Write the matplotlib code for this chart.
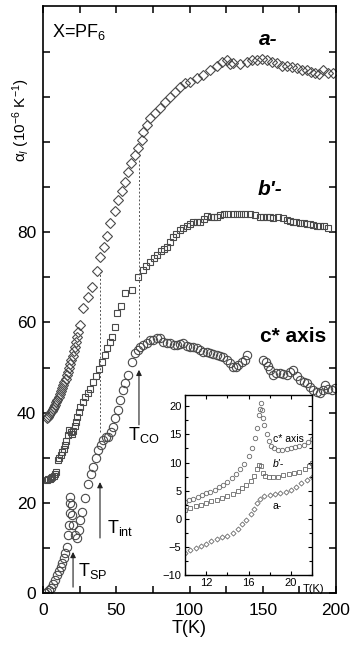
import numpy as np
import matplotlib.pyplot as plt
from matplotlib.ticker import MultipleLocator

plt.rcParams['font.family'] = ['Liberation Sans', 'DejaVu Sans']
plt.rcParams['mathtext.fontset'] = 'custom'
plt.rcParams['mathtext.rm'] = 'Liberation Sans'
plt.rcParams['mathtext.it'] = 'Liberation Sans:italic'
plt.rcParams['mathtext.bf'] = 'Liberation Sans:bold'

# ---- main panel data: thermal expansion alpha_l vs T ----
a_T = [2.7, 3.5, 4.3, 5.0, 5.8, 6.6, 7.4, 8.2, 9.0, 9.8, 10.6, 11.4, 12.2, 13.0,
       13.8, 14.6, 15.4, 16.2, 17.0, 17.8, 18.6, 19.4, 20.2, 21.0, 21.8, 22.6,
       23.4, 24.2, 25.3, 27.3, 30.7, 33.4, 36.9, 38.9, 41.6, 43.7, 45.7, 49.1,
       51.2, 53.9, 56.0, 58.0, 60.1, 62.8, 64.8, 67.4, 68.5, 70.8, 73.0, 76.5,
       79.9, 83.3, 86.7, 90.1, 93.5, 96.9, 100.3, 104.9, 109.4, 114.0, 118.6,
       122.2, 125.4, 127.6, 129.9, 134.5, 139.0, 142.7, 145.9, 149.5, 152.7,
       156.3, 159.5, 163.1, 166.3, 170.0, 173.2, 176.8, 180.0, 183.0, 185.7,
       188.4, 191.3, 194.5, 198.2]
a_y = [38.8, 39.1, 39.5, 39.9, 40.3, 40.8, 41.3, 41.7, 42.3, 42.9, 43.5, 44.1,
       44.7, 45.4, 46.1, 46.8, 47.5, 48.3, 49.1, 49.9, 50.8, 51.7, 52.6, 53.6,
       54.6, 55.6, 56.7, 57.8, 59.5, 63.2, 65.7, 67.9, 71.4, 74.5, 76.8, 79.2,
       82.1, 84.7, 87.2, 89.2, 91.2, 93.4, 95.4, 97.2, 98.7, 100.5, 102.3, 103.8,
       105.3, 106.4, 107.5, 109.0, 110.1, 111.2, 112.3, 113.1, 113.4, 114.2,
       114.9, 116.0, 116.8, 117.8, 118.2, 117.3, 117.5, 117.3, 117.8, 118.2,
       118.2, 118.5, 118.2, 117.8, 117.5, 116.9, 116.8, 116.7, 116.4, 116.0,
       116.0, 115.6, 115.3, 115.1, 116.0, 115.4, 115.3]

b_T = [2.7, 3.6, 4.5, 5.4, 6.3, 7.2, 8.1, 9.0, 10.2, 11.0, 12.0, 13.0, 14.0,
       15.0, 16.0, 17.1, 18.0, 18.8, 19.6, 20.5, 21.5, 22.5, 23.5, 24.5, 25.3,
       27.0, 28.7, 30.5, 32.1, 34.0, 36.0, 38.0, 40.3, 42.0, 43.7, 45.5, 47.1,
       49.1, 50.5, 53.0, 56.0, 60.7, 64.8, 68.3, 70.5, 73.0, 75.5, 77.8, 80.5,
       82.5, 84.6, 86.7, 88.7, 91.0, 93.3, 95.6, 98.0, 100.2, 102.4, 104.8,
       107.2, 109.6, 112.0, 114.5, 116.8, 118.8, 120.8, 123.5, 126.5, 129.7,
       132.5, 135.2, 138.2, 141.3, 144.6, 148.1, 150.5, 152.9, 155.0, 157.0,
       160.4, 163.8, 166.5, 168.6, 170.6, 173.0, 175.4, 178.0, 180.2, 182.3,
       184.3, 187.0, 189.1, 191.8, 194.5]
b_y = [25.1, 25.2, 25.3, 25.5, 25.7, 26.0, 26.4, 26.9, 29.5, 30.0, 30.6, 31.2,
       32.0, 32.8, 33.8, 35.0, 36.2, 35.6, 35.2, 36.0, 37.0, 38.0, 39.0, 40.2,
       41.3, 42.4, 43.5, 44.4, 45.2, 46.8, 48.2, 49.6, 51.2, 52.8, 54.3, 55.6,
       56.8, 59.0, 62.1, 63.6, 66.5, 67.2, 70.1, 71.7, 72.6, 73.4, 74.2, 75.0,
       75.9, 76.4, 76.8, 77.9, 79.0, 79.7, 80.4, 81.0, 81.5, 81.9, 82.3, 82.3,
       82.3, 82.9, 83.6, 83.5, 83.4, 83.4, 83.9, 84.0, 84.1, 84.1, 84.1, 84.1,
       84.0, 84.1, 83.8, 83.4, 83.5, 83.4, 83.3, 83.2, 83.3, 83.2, 82.7, 82.6,
       82.3, 82.2, 82.1, 82.0, 81.9, 81.8, 81.6, 81.5, 81.4, 81.3, 81.0]

c_T = [1.4, 2.7, 4.0, 5.5, 6.8, 8.2, 9.5, 10.9, 12.0, 13.0, 14.0, 15.0, 16.4,
       17.1, 17.7, 18.4, 18.4, 18.4, 19.8, 19.8, 20.5, 21.8, 23.2, 24.6, 25.3,
       26.6, 28.7, 30.7, 32.8, 34.1, 36.2, 37.5, 39.6, 41.0, 43.0, 44.4, 46.4,
       47.8, 49.1, 51.2, 52.6, 54.6, 56.0, 58.0, 60.7, 62.8, 64.8, 66.2, 68.3,
       71.0, 73.0, 75.1, 77.8, 79.9, 81.9, 84.6, 86.7, 89.4, 91.5, 93.5, 95.6,
       98.3, 100.3, 102.4, 105.1, 107.2, 109.2, 112.0, 114.0, 116.0, 118.8,
       120.8, 122.9, 125.6, 127.6, 129.7, 131.7, 133.1, 135.9, 137.9, 139.2,
       150.2, 152.2, 153.6, 155.0, 157.0, 159.1, 161.8, 163.8, 166.5, 168.6,
       170.6, 173.4, 175.4, 178.2, 180.2, 182.3, 184.3, 187.0, 189.1, 191.1,
       192.5, 194.5, 197.3, 199.3]
c_y = [0.0, 0.2, 0.6, 1.1, 1.9, 2.9, 3.9, 4.9, 5.8, 6.7, 7.8, 8.9, 10.2, 12.9,
       15.1, 17.7, 20.0, 21.3, 19.5, 17.3, 15.1, 12.9, 12.2, 14.0, 16.2, 18.0,
       21.1, 24.2, 26.4, 28.0, 29.9, 31.7, 32.8, 33.9, 34.6, 34.6, 35.7, 36.8,
       38.8, 40.6, 42.8, 45.0, 46.6, 48.4, 51.2, 53.2, 53.9, 54.6, 55.0, 55.5,
       56.1, 56.1, 56.6, 56.6, 55.7, 55.5, 55.5, 55.0, 55.0, 55.2, 55.5, 54.8,
       54.6, 54.6, 54.3, 53.9, 53.5, 53.5, 53.2, 53.0, 52.8, 52.6, 52.4, 51.7,
       51.0, 50.1, 50.1, 50.6, 51.2, 51.7, 52.8, 51.7, 51.2, 50.4, 49.5, 48.4,
       48.8, 48.8, 48.6, 48.4, 49.0, 49.5, 48.1, 47.3, 46.8, 46.6, 45.7, 45.0,
       44.6, 44.4, 45.0, 46.1, 45.3, 45.0, 45.5]

# ---- inset data: low temperature region ----
ic_T = [10.0, 10.4, 10.8, 11.2, 11.6, 12.0, 12.4, 12.8, 13.2, 13.6, 14.0, 14.4,
        14.8, 15.2, 15.6, 16.0, 16.3, 16.6, 16.8, 17.0, 17.1, 17.2, 17.3, 17.4,
        17.5, 17.7, 17.9, 18.1, 18.4, 18.8, 19.2, 19.6, 20.0, 20.4, 20.8, 21.2,
        21.6, 22.0]
ic_y = [3.0, 3.3, 3.6, 3.9, 4.2, 4.5, 4.8, 5.2, 5.6, 6.0, 6.6, 7.2, 7.9, 8.8,
        9.8, 11.2, 12.6, 14.4, 16.2, 18.4, 19.6, 20.5, 19.4, 18.0, 16.6, 15.0,
        13.8, 13.0, 12.5, 12.3, 12.3, 12.4, 12.5, 12.7, 12.9, 13.2, 13.7, 14.2]
ib_T = [10.0, 10.5, 11.0, 11.5, 12.0, 12.5, 13.0, 13.5, 14.0, 14.5, 15.0, 15.4,
        15.8, 16.2, 16.5, 16.8, 17.0, 17.2, 17.4, 17.6, 17.9, 18.3, 18.8, 19.3,
        19.8, 20.3, 20.8, 21.3, 21.7, 22.0]
ib_y = [1.6, 1.9, 2.2, 2.5, 2.8, 3.1, 3.4, 3.7, 4.0, 4.4, 4.9, 5.4, 6.0, 6.8,
        7.6, 8.8, 9.6, 9.4, 8.2, 7.6, 7.4, 7.4, 7.5, 7.7, 7.9, 8.1, 8.4, 8.8,
        9.3, 9.9]
ia_T = [10.0, 10.5, 11.0, 11.5, 12.0, 12.5, 13.0, 13.5, 14.0, 14.5, 15.0, 15.4,
        15.8, 16.2, 16.5, 16.8, 17.1, 17.5, 18.0, 18.5, 19.0, 19.5, 20.0, 20.5,
        21.0, 21.5, 22.0]
ia_y = [-6.0, -5.6, -5.2, -4.8, -4.4, -4.0, -3.6, -3.3, -3.0, -2.5, -1.8, -1.0,
        -0.2, 0.8, 1.8, 2.8, 3.6, 4.0, 4.2, 4.4, 4.6, 4.8, 5.2, 5.7, 6.3, 6.9,
        7.5]

# transition temperatures (arrows / dashed guides)
T_sp, T_int, T_co = 20.5, 38.9, 65.5

edge = '#4a4a4a'
fig = plt.figure(figsize=(3.54, 6.49), dpi=100)
ax = fig.add_axes([0.1215, 0.0863, 0.8277, 0.9045])

ax.plot(a_T, a_y, 'D', ms=4.6, mfc='none', mec=edge, mew=0.8)
ax.plot(b_T, b_y, 's', ms=5.0, mfc='none', mec=edge, mew=0.8)
ax.plot(c_T, c_y, 'o', ms=6.0, mfc='none', mec=edge, mew=0.8)

ax.set_xlim(0, 200)
ax.set_ylim(0, 130.2)
ax.set_xticks(np.arange(0, 201, 25))
ax.set_xticklabels([str(v) if v % 50 == 0 else '' for v in range(0, 201, 25)])
ax.set_yticks(np.arange(0, 130, 10))
ax.set_yticklabels([str(v) if (v % 20 == 0 and v <= 80) else '' for v in range(0, 130, 10)])
ax.tick_params(direction='in', top=True, right=True, length=5, width=1.1,
               labelsize=12.5)
ax.tick_params(axis='x', pad=7)
ax.tick_params(axis='y', pad=5)
for s in ax.spines.values():
    s.set_linewidth(1.2)
ax.set_xlabel('T(K)', fontsize=13, labelpad=2)
fig.text(0.059, 0.815, 'α$_l$ (10$^{-6}$ K$^{-1}$)', rotation=90,
         ha='center', va='center', fontsize=11)

ax.text(6.1, 124.4, 'X=PF$_6$', fontsize=13, ha='left', va='center')
ax.text(154, 122.7, 'a-', fontsize=15, fontweight='bold', style='italic',
        ha='center', va='center')
ax.text(155, 89.5, "b'-", fontsize=15, fontweight='bold', style='italic',
        ha='center', va='center')
ax.text(170.6, 56.8, 'c* axis', fontsize=15, fontweight='bold',
        ha='center', va='center')

# dashed guides
ax.plot([T_int, T_int], [35.7, 71.2], ls=(0, (2, 2)), color='#555555', lw=0.7)
ax.plot([T_co, T_co], [56.8, 96.5], ls=(0, (2, 2)), color='#555555', lw=0.7)

# arrows
arr = dict(arrowstyle='-|>', color='#222222', lw=0.8, mutation_scale=8,
           shrinkA=0, shrinkB=0)
ax.annotate('', xy=(T_co, 49.5), xytext=(T_co, 37.3), arrowprops=arr)
ax.annotate('', xy=(T_int, 24.6), xytext=(T_int, 12.2), arrowprops=arr)
ax.annotate('', xy=(T_sp, 9.1), xytext=(T_sp, 1.3), arrowprops=arr)
ax.text(58, 35, r'T$_{\rm CO}$', fontsize=13, ha='left', va='center')
ax.text(43.7, 14.4, r'T$_{\rm int}$', fontsize=13, ha='left', va='center')
ax.text(23.9, 4.9, r'T$_{\rm SP}$', fontsize=13, ha='left', va='center')

# inset
ins = fig.add_axes([0.5226, 0.1140, 0.3588, 0.2773])
ins.plot(ia_T, ia_y, 'D', ms=2.6, mfc='none', mec='#6a6a6a', mew=0.6)
ins.plot(ib_T, ib_y, 's', ms=3.0, mfc='none', mec='#6a6a6a', mew=0.6)
ins.plot(ic_T, ic_y, 'o', ms=3.2, mfc='none', mec='#6a6a6a', mew=0.6)
ins.set_xlim(10, 22)
ins.set_ylim(-10, 22)
ins.set_xticks([12, 16, 20])
ins.xaxis.set_minor_locator(MultipleLocator(2))
ins.yaxis.set_major_locator(MultipleLocator(5))
ins.yaxis.set_minor_locator(MultipleLocator(2.5))
ins.tick_params(which='both', direction='in', top=True, right=True,
                labelsize=8, pad=2.5, width=0.8)
ins.tick_params(which='major', length=3)
ins.tick_params(which='minor', length=2)
for s in ins.spines.values():
    s.set_linewidth(1.0)
ins.text(21.1, -0.05, 'T(K)', transform=ins.get_xaxis_transform(),
         fontsize=8, ha='left', va='top')
ins.text(18.3, 14.2, 'c* axis', fontsize=7.5, ha='left', va='center')
ins.text(18.3, 9.7, "b'-", fontsize=7.5, style='italic', ha='left', va='center')
ins.text(18.3, 2.2, 'a-', fontsize=7.5, ha='left', va='center')

fig.savefig('out.png', dpi=100)
